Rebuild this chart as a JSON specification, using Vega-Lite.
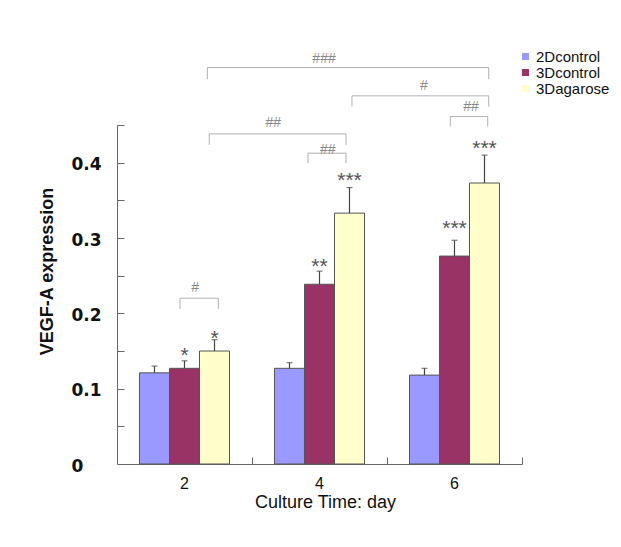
{
  "$schema": "https://vega.github.io/schema/vega-lite/v6.json",
  "width": 405,
  "height": 339,
  "autosize": {"type": "none"},
  "padding": {"left": 117, "top": 125, "right": 99, "bottom": 83},
  "background": "white",
  "config": {"view": {"stroke": null}, "font": "Liberation Sans"},
  "datasets": {
    "bars": [
      {"day": 2, "group": "2Dcontrol", "value": 0.121, "hi": 0.130, "star": "", "star_y": 0},
      {"day": 2, "group": "3Dcontrol", "value": 0.127, "hi": 0.137, "star": "*", "star_y": 0.1514},
      {"day": 2, "group": "3Dagarose", "value": 0.150, "hi": 0.165, "star": "*", "star_y": 0.1744},
      {"day": 4, "group": "2Dcontrol", "value": 0.127, "hi": 0.1345, "star": "", "star_y": 0},
      {"day": 4, "group": "3Dcontrol", "value": 0.2386, "hi": 0.256, "star": "**", "star_y": 0.270},
      {"day": 4, "group": "3Dagarose", "value": 0.333, "hi": 0.367, "star": "***", "star_y": 0.3838},
      {"day": 6, "group": "2Dcontrol", "value": 0.118, "hi": 0.127, "star": "", "star_y": 0},
      {"day": 6, "group": "3Dcontrol", "value": 0.276, "hi": 0.297, "star": "***", "star_y": 0.3197},
      {"day": 6, "group": "3Dagarose", "value": 0.373, "hi": 0.410, "star": "***", "star_y": 0.4267}
    ],
    "brackets": [
      {"id": "a", "x1": 2.338, "x2": 6.507, "y": 0.5263, "yl": 0.5109, "label": "###", "lx": 4.067, "ly": 0.5378},
      {"id": "b", "x1": 4.481, "x2": 6.507, "y": 0.4887, "yl": 0.4745, "label": "#", "lx": 5.548, "ly": 0.5024},
      {"id": "c", "x1": 5.938, "x2": 6.492, "y": 0.4612, "yl": 0.4479, "label": "##", "lx": 6.244, "ly": 0.4745},
      {"id": "d", "x1": 2.367, "x2": 4.393, "y": 0.4382, "yl": 0.4236, "label": "##", "lx": 3.316, "ly": 0.4525},
      {"id": "e", "x1": 3.830, "x2": 4.393, "y": 0.4126, "yl": 0.3993, "label": "##", "lx": 4.121, "ly": 0.4170},
      {"id": "f", "x1": 1.933, "x2": 2.501, "y": 0.2201, "yl": 0.2058, "label": "#", "lx": 2.156, "ly": 0.2333}
    ]
  },
  "layer": [
    {
      "data": {"name": "bars"},
      "encoding": {
        "x": {
          "field": "day", "type": "ordinal",
          "scale": {"paddingInner": 0.33333, "paddingOuter": 0.16667},
          "axis": {
            "title": "Culture Time: day",
            "labelAngle": 0,
            "ticks": false,
            "tickSize": 0,
            "domainColor": "#666666",
            "labelFont": "Liberation Sans",
            "labelFontSize": 16,
            "labelColor": "#111111",
            "labelPadding": 11,
            "labelBaseline": "top",
            "titleFont": "Liberation Sans",
            "titleFontSize": 18,
            "titleFontWeight": "normal",
            "titleColor": "#111111",
            "titleBaseline": "alphabetic",
            "titleAlign": "center",
            "titleX": 208,
            "titleY": 43
          }
        },
        "xOffset": {
          "field": "group",
          "sort": ["2Dcontrol", "3Dcontrol", "3Dagarose"],
          "scale": {"paddingInner": 0, "paddingOuter": 0}
        }
      },
      "layer": [
        {
          "mark": {"type": "bar", "stroke": "#555555", "strokeWidth": 1},
          "encoding": {
            "y": {
              "field": "value", "type": "quantitative",
              "scale": {"domain": [0, 0.45], "nice": false, "zero": true},
              "axis": {
                "title": "VEGF-A expression",
                "values": [0, 0.1, 0.2, 0.3, 0.4],
                "labelExpr": "datum.value == 0 ? '0' : format(datum.value, '.1f')",
                "grid": false,
                "ticks": false,
                "tickSize": 0,
                "domainColor": "#666666",
                "labelFont": "DejaVu Sans",
                "labelFontWeight": "bold",
                "labelFontSize": 17,
                "labelColor": "#111111",
                "labelAlign": "left",
                "labelBaseline": "middle",
                "labelPadding": 46,
                "labelOffset": 2,
                "titleFont": "Liberation Sans",
                "titleFontWeight": "bold",
                "titleFontSize": 18,
                "titleColor": "#111111",
                "titleAngle": -90,
                "titleBaseline": "alphabetic",
                "titleAlign": "center",
                "titleX": -65,
                "titleY": 146
              }
            },
            "color": {
              "field": "group", "type": "nominal",
              "sort": ["2Dcontrol", "3Dcontrol", "3Dagarose"],
              "scale": {"domain": ["2Dcontrol", "3Dcontrol", "3Dagarose"], "range": ["#9999FF", "#993366", "#FFFFCC"]},
              "legend": {
                "title": null,
                "orient": "none",
                "legendX": 401,
                "legendY": -76,
                "padding": 0,
                "symbolType": "square",
                "symbolSize": 49,
                "symbolStrokeWidth": 0,
                "labelFont": "Liberation Sans",
                "labelFontSize": 15,
                "labelColor": "#111111",
                "labelOffset": 3,
                "rowPadding": 0
              }
            }
          }
        },
        {
          "mark": {"type": "rule", "color": "#444444", "strokeWidth": 1.2},
          "encoding": {
            "y": {"field": "value", "type": "quantitative", "scale": {"domain": [0, 0.45], "nice": false}},
            "y2": {"field": "hi"}
          }
        },
        {
          "mark": {"type": "tick", "orient": "horizontal", "color": "#444444", "size": 6, "thickness": 1.2},
          "encoding": {
            "y": {"field": "hi", "type": "quantitative", "scale": {"domain": [0, 0.45], "nice": false}}
          }
        },
        {
          "transform": [{"filter": "datum.star != ''"}],
          "mark": {"type": "text", "font": "Liberation Sans", "fontSize": 21, "color": "#555555", "baseline": "middle", "align": "center", "dy": 6},
          "encoding": {
            "y": {"field": "star_y", "type": "quantitative", "scale": {"domain": [0, 0.45], "nice": false}},
            "text": {"field": "star"}
          }
        }
      ]
    },
    {
      "data": {"name": "brackets"},
      "layer": [
        {
          "mark": {"type": "rule", "color": "#b0b0b0", "strokeWidth": 1},
          "encoding": {
            "x": {
              "field": "x1", "type": "quantitative",
              "scale": {"domain": [1, 7], "nice": false, "zero": false},
              "axis": {"orient": "top", "offset": -339, "values": [3, 5, 7], "labels": false, "domain": false, "grid": false, "ticks": true, "tickSize": 7, "tickColor": "#666666", "tickWidth": 1, "title": null}
            },
            "x2": {"field": "x2"},
            "y": {
              "field": "y", "type": "quantitative",
              "scale": {"domain": [0, 0.45], "nice": false},
              "axis": {"orient": "right", "offset": -405, "values": [0.05, 0.1, 0.15, 0.2, 0.25, 0.3, 0.35, 0.4, 0.45], "labels": false, "domain": false, "grid": false, "ticks": true, "tickSize": 7, "tickColor": "#666666", "tickWidth": 1, "title": null}
            }
          }
        },
        {
          "mark": {"type": "rule", "color": "#b0b0b0", "strokeWidth": 1},
          "encoding": {
            "x": {"field": "x1", "type": "quantitative", "scale": {"domain": [1, 7], "nice": false, "zero": false}},
            "y": {"field": "y", "type": "quantitative", "scale": {"domain": [0, 0.45], "nice": false}},
            "y2": {"field": "yl"}
          }
        },
        {
          "mark": {"type": "rule", "color": "#b0b0b0", "strokeWidth": 1},
          "encoding": {
            "x": {"field": "x2", "type": "quantitative", "scale": {"domain": [1, 7], "nice": false, "zero": false}},
            "y": {"field": "y", "type": "quantitative", "scale": {"domain": [0, 0.45], "nice": false}},
            "y2": {"field": "yl"}
          }
        },
        {
          "mark": {"type": "text", "font": "Liberation Sans", "fontSize": 14, "color": "#888888", "baseline": "middle", "align": "center"},
          "encoding": {
            "x": {"field": "lx", "type": "quantitative", "scale": {"domain": [1, 7], "nice": false, "zero": false}},
            "y": {"field": "ly", "type": "quantitative", "scale": {"domain": [0, 0.45], "nice": false}},
            "text": {"field": "label"}
          }
        }
      ]
    }
  ],
  "resolve": {"scale": {"x": "independent"}, "axis": {"x": "independent", "y": "independent"}}
}
